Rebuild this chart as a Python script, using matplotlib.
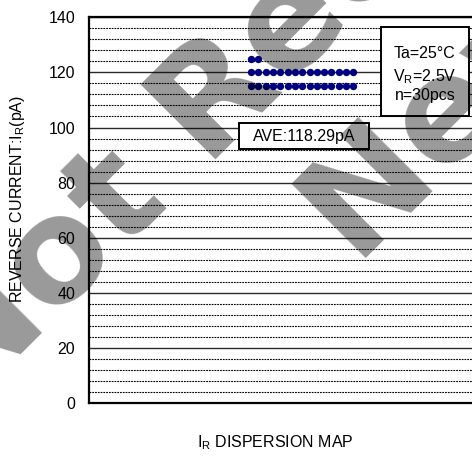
import numpy as np
import matplotlib
matplotlib.use("Agg")
import matplotlib.pyplot as plt
from matplotlib.patches import Rectangle
from matplotlib.ticker import MultipleLocator

# ---- data ----
row_values = [125, 120, 115]      # pA, binned reverse-current levels
row_counts = [2, 15, 15]          # dots drawn on each level
ave_label = "AVE:118.29pA"
cond_lines = ["Ta=25°C", r"V$_{\mathrm{R}}$=2.5V", "n=30pcs"]
y_major = list(range(0, 141, 20))
y_label = r"REVERSE CURRENT:I$_{\mathrm{R}}$(pA)"
x_label = r"I$_{\mathrm{R}}$ DISPERSION MAP"
watermark = ["Not Recommended for", "New Design"]

plt.rcParams['font.family'] = ['Liberation Sans', 'DejaVu Sans']
plt.rcParams['mathtext.fontset'] = 'custom'
plt.rcParams['mathtext.rm'] = 'Liberation Sans'
plt.rcParams['mathtext.it'] = 'Liberation Sans:italic'
plt.rcParams['mathtext.bf'] = 'Liberation Sans:bold'

W, H = 472, 457
fig = plt.figure(figsize=(W / 100, H / 100), dpi=100)

def fx(px):
    return px / W

def fy(py):
    return 1 - py / H

ax = fig.add_axes([fx(89), fy(403), fx(476) - fx(89), fy(17.3) - fy(403)])
ax.set_facecolor('white')

ax.set_ylim(0, 140)
ax.set_xlim(-22.2, 30.8)
ax.yaxis.set_major_locator(MultipleLocator(20))
ax.yaxis.set_minor_locator(MultipleLocator(4))
ax.set_yticks(y_major)
ax.set_yticklabels([str(v) for v in y_major])
ax.set_xticks([])
ax.tick_params(axis='y', which='both', length=0, pad=10, labelsize=11.5)
ax.yaxis.grid(True, which='major', color='#2a2a2a', lw=1.0, ls='-')
ax.yaxis.grid(True, which='minor', color='black', lw=0.8, ls=(0, (1.6, 0.9)))
ax.set_axisbelow(True)

for s in ['left', 'bottom', 'top']:
    ax.spines[s].set_linewidth(1.6)
    ax.spines[s].set_color('black')
ax.spines['right'].set_visible(False)

for yv, n in zip(row_values, row_counts):
    xs = np.arange(n)
    ax.plot(xs, np.full(n, yv), 'o', color='#000080', ms=5.3, mec='none',
            zorder=3, clip_on=False)

# AVE box
fig.patches.append(Rectangle((fx(239.3), fy(149.3)), fx(368.7) - fx(239.3),
                             fy(123.3) - fy(149.3), transform=fig.transFigure,
                             fc='white', ec='black', lw=1.4, zorder=2))
fig.text(fx(304), fy(136), ave_label, ha='center', va='center',
         fontsize=11.5, zorder=3)

# condition box
fig.patches.append(Rectangle((fx(380.7), fy(116.3)), fx(469.3) - fx(380.7),
                             fy(26.7) - fy(116.3), transform=fig.transFigure,
                             fc='white', ec='black', lw=1.4, zorder=2))
for line, py in zip(cond_lines, [54, 76.5, 96]):
    fig.text(fx(425), fy(py), line, ha='center', va='center',
             fontsize=11.5, zorder=3)

# axis labels
fig.text(fx(17.5), fy(199.5), y_label, rotation=90, ha='center', va='center',
         fontsize=11.5)
fig.text(fx(275), fy(443), x_label, ha='center', va='center', fontsize=11.5)

# watermark
for line, (px, py) in zip(watermark, [(-33, 409), (357.5, 267.5)]):
    fig.text(fx(px), fy(py), line, rotation=45, rotation_mode='anchor',
             ha='left', va='baseline', fontsize=104, fontweight='bold',
             family='DejaVu Sans', color='black', alpha=0.4, zorder=10)

fig.savefig('out.png', dpi=100)
